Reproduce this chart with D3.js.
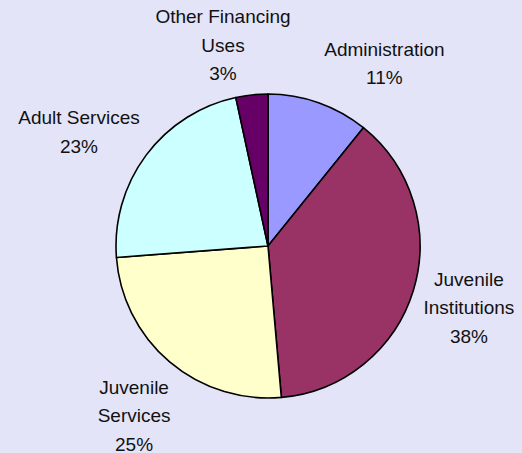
<!DOCTYPE html>
<html>
<head>
<meta charset="utf-8">
<script src="https://cdn.jsdelivr.net/npm/d3@7"></script>
<style>
  html, body { margin: 0; padding: 0; background: #E4E4F8; }
  svg { display: block; }
</style>
</head>
<body>
<svg></svg>
<script>
var svgWidth = 522;
var svgHeight = 453;

// data, clockwise from 12 o'clock
var categories = ["Administration", "Juvenile Institutions", "Juvenile Services", "Adult Services", "Other Financing Uses"];
var labelLines = [["Administration"], ["Juvenile", "Institutions"], ["Juvenile", "Services"], ["Adult Services"], ["Other Financing", "Uses"]];
var shares = [10.8, 37.8, 25.2, 22.8, 3.4];
var colors = ["#9999FF", "#993366", "#FFFFCC", "#CCFFFF", "#660066"];

// label placement tweaks (angle nudge in degrees, distance from centre)
var labelNudge = [13, 0, -2, -5.5, -6.5];
var labelDist = [217, 210, 216, 221, 206];

var cx = 268, cy = 246, radius = 152;
var lineH = 28.5;

var svg = d3.select("svg")
    .attr("width", svgWidth)
    .attr("height", svgHeight);

svg.append("rect")
    .attr("width", svgWidth)
    .attr("height", svgHeight)
    .attr("fill", "#E4E4F8");

var pie = d3.pie().sort(null).value(function(d) { return d; });
var arcs = pie(shares);
var total = d3.sum(shares);

var arc = d3.arc().innerRadius(0).outerRadius(radius);

var g = svg.append("g").attr("transform", "translate(" + cx + "," + cy + ")");

g.selectAll("path")
    .data(arcs)
    .enter()
    .append("path")
    .attr("d", arc)
    .attr("fill", function(d, i) { return colors[i]; })
    .attr("stroke", "#000")
    .attr("stroke-width", 1.6)
    .attr("stroke-linejoin", "round");

var labels = g.selectAll("text.lbl")
    .data(arcs)
    .enter()
    .append("text")
    .attr("class", "lbl")
    .attr("text-anchor", "middle")
    .attr("font-family", "'Liberation Sans', Arial, sans-serif")
    .attr("font-size", 19)
    .attr("fill", "#111")
    .attr("transform", function(d, i) {
        var a = (d.startAngle + d.endAngle) / 2 + labelNudge[i] * Math.PI / 180;
        var x = labelDist[i] * Math.sin(a);
        var y = -labelDist[i] * Math.cos(a);
        return "translate(" + x + "," + y + ")";
    });

labels.each(function(d, i) {
    var lines = labelLines[i].concat([Math.round(d.value / total * 100) + "%"]);
    var t = d3.select(this);
    lines.forEach(function(line, j) {
        t.append("tspan")
            .attr("x", 0)
            .attr("y", (j - (lines.length - 1) / 2) * lineH + 7)
            .text(line);
    });
});
</script>
</body>
</html>
